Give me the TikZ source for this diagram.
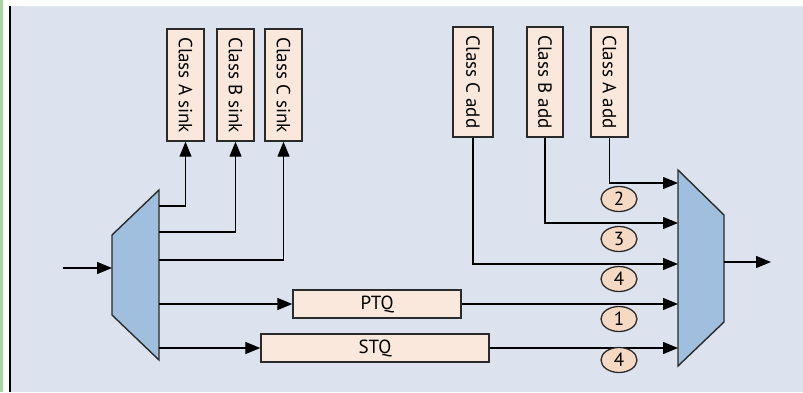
\documentclass[tikz,border=0pt]{standalone}
\usepackage{fontspec}
\setmainfont{PT Sans}
\usetikzlibrary{arrows.meta,shapes.geometric}
\definecolor{bgc}{HTML}{DCE3EE}
\definecolor{boxc}{HTML}{FAE8DC}
\definecolor{circc}{HTML}{F5D9C2}
\definecolor{muxc}{HTML}{A0BEDD}
\definecolor{greenc}{HTML}{A6D6A0}
\definecolor{edgec}{HTML}{2A2A2A}
\begin{document}
\begin{tikzpicture}[x=1pt,y=-1pt,
  box/.style={draw=edgec,line width=1.4pt,fill=boxc,inner sep=0pt,font=\fontsize{19}{22}\selectfont},
  vbox/.style={box,minimum width=37pt,minimum height=112pt},
  hbox/.style={box,minimum height=28pt},
  num/.style={ellipse,draw=edgec,line width=1.3pt,fill=circc,minimum width=36pt,minimum height=25pt,inner sep=0pt,font=\fontsize{19}{22}\selectfont},
  mux/.style={draw=edgec,line width=1.4pt,fill=muxc},
  conn/.style={draw=black,line width=1.3pt},
  arr/.style={conn,-{Triangle[length=15pt,width=12pt]}}]
\useasboundingbox (0,0) rectangle (803,392);
\fill[white] (0,0) rectangle (803,392);
\fill[greenc] (0,0) rectangle (2.5,392);
\fill[bgc] (10,6) rectangle (803,392);
\draw[black,line width=1.6pt] (9.8,6) -- (9.8,392);

% sinks
\node[vbox] (sinkA) at (185.5,85) {\rotatebox{-90}{Class A sink}};
\node[vbox] (sinkB) at (235.5,85) {\rotatebox{-90}{Class B sink}};
\node[vbox] (sinkC) at (283.5,85) {\rotatebox{-90}{Class C sink}};
% adds
\node[vbox,minimum width=40pt,minimum height=110pt] (addC) at (473,82) {\rotatebox{-90}{Class C add}};
\node[vbox,minimum width=36pt,minimum height=110pt] (addB) at (545,82) {\rotatebox{-90}{Class B add}};
\node[vbox,minimum width=37pt,minimum height=110pt] (addA) at (609.5,82) {\rotatebox{-90}{Class A add}};
% queues
\node[hbox,minimum width=168pt] (ptq) at (377,304) {PTQ};
\node[hbox,minimum width=228pt] (stq) at (375,348) {STQ};

% muxes
\draw[mux] (112,235) -- (159,190) -- (159,360) -- (112,315) -- cycle;
\draw[mux] (678,170) -- (724,215) -- (724,322) -- (678,366) -- cycle;

% ports
\coordinate (inS) at (63,268);
\coordinate (inL) at (112,268);
\coordinate (o1) at (159,206);
\coordinate (o2) at (159,232);
\coordinate (o3) at (159,260);
\coordinate (o4) at (159,304);
\coordinate (o5) at (159,348);
\coordinate (i1) at (678,183);
\coordinate (i2) at (678,223);
\coordinate (i3) at (678,264);
\coordinate (i4) at (678,304);
\coordinate (i5) at (678,348);
\coordinate (outR) at (724,262);
\coordinate (outE) at (771,262);

\draw[arr] (inS) -- (inL);
\draw[arr] (o1) -| (sinkA.south);
\draw[arr] (o2) -| (sinkB.south);
\draw[arr] (o3) -| (sinkC.south);
\draw[arr] (o4) -- (ptq.west);
\draw[arr] (o5) -- (stq.west);
\draw[arr] (addA.south) |- (i1);
\draw[arr] (addB.south) |- (i2);
\draw[arr] (addC.south) |- (i3);
\draw[arr] (ptq.east) -- (i4);
\draw[arr] (stq.east) -- (i5);
\draw[arr] (outR) -- (outE);

% numbers
\node[num] (n2) at (619,199) {2};
\node[num] (n3) at (619,239) {3};
\node[num] (n4a) at (619,279) {4};
\node[num] (n1) at (619,319) {1};
\node[num] (n4b) at (619,360) {4};
\end{tikzpicture}
\end{document}
